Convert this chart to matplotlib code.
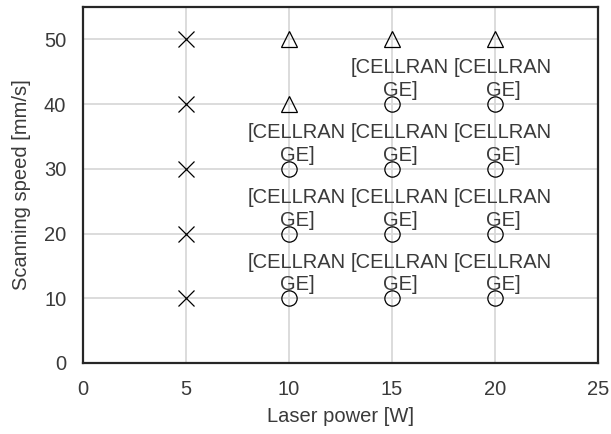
import matplotlib
matplotlib.use('Agg')
import matplotlib.pyplot as plt

plt.rcParams['font.family'] = ['Liberation Sans', 'DejaVu Sans']

# failed conditions (x markers)
fail_power = [5, 5, 5, 5, 5]
fail_speed = [10, 20, 30, 40, 50]

# partial conditions (triangles)
part_power = [10, 10, 15, 20]
part_speed = [40, 50, 50, 50]

# good conditions (circles), each carries a data label
good_power = [10, 10, 10, 15, 15, 15, 15, 20, 20, 20, 20]
good_speed = [10, 20, 30, 10, 20, 30, 40, 10, 20, 30, 40]
good_labels = ['[CELLRAN\nGE]'] * len(good_power)

text_col = '#3a3a3a'
fs = 14.5

fig = plt.figure(figsize=(6.11, 4.34), dpi=100)
ax = fig.add_axes([83 / 611, (434 - 363) / 434, 515 / 611, 356 / 434])

ms = 11
ax.plot(fail_power, fail_speed, linestyle='none', marker='x', markersize=ms,
        color='black', markeredgewidth=0.9, zorder=3)
ax.plot(part_power, part_speed, linestyle='none', marker='^', markersize=ms,
        markerfacecolor='none', markeredgecolor='black', markeredgewidth=0.9, zorder=3)
ax.plot(good_power, good_speed, linestyle='none', marker='o', markersize=ms,
        markerfacecolor='none', markeredgecolor='black', markeredgewidth=0.9, zorder=3)

for px, sy, lab in zip(good_power, good_speed, good_labels):
    ax.annotate(lab, (px, sy), xytext=(8, 4), textcoords='offset pixels',
                ha='center', va='bottom', fontsize=fs, color=text_col,
                linespacing=1.25, zorder=4)

ax.set_xlim(0, 25)
ax.set_ylim(0, 55)
ax.set_xticks([0, 5, 10, 15, 20, 25])
ax.set_yticks([0, 10, 20, 30, 40, 50])
ax.grid(True, color='#d9d9d9', linewidth=1.3, zorder=0)
ax.set_axisbelow(True)
ax.tick_params(length=0, labelsize=fs, labelcolor=text_col)
ax.tick_params(axis='x', pad=12)
ax.tick_params(axis='y', pad=12)
for s in ax.spines.values():
    s.set_color('#262626')
    s.set_linewidth(1.6)

ax.set_xlabel('Laser power [W]', fontsize=fs, color=text_col, labelpad=6)
ax.set_ylabel('Scanning speed [mm/s]', fontsize=fs, color=text_col, labelpad=9)

fig.savefig('out.png', dpi=100)
